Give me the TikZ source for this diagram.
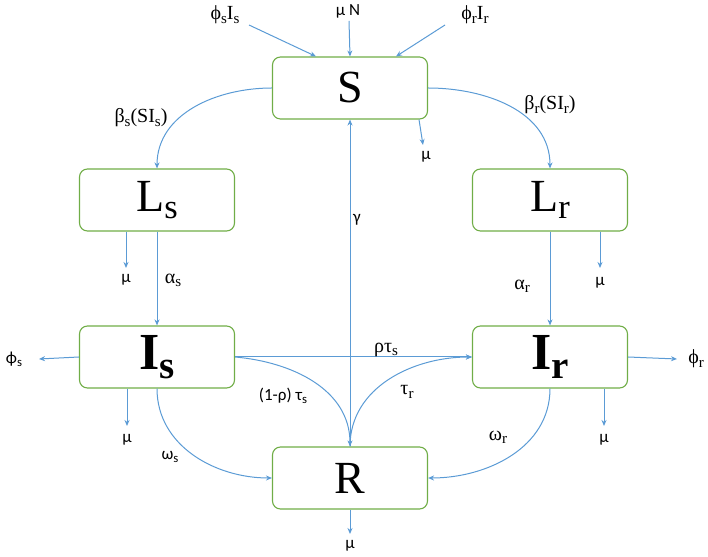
\documentclass[tikz,border=0pt]{standalone}
\usepackage{fontspec}
\setmainfont{Liberation Serif}
\newfontfamily\calib{Carlito}
\usepackage{xcolor}
\usepackage{tikz}
\usetikzlibrary{arrows.meta,positioning}
\definecolor{boxgreen}{RGB}{112,173,71}
\definecolor{flowblue}{RGB}{91,155,213}
\newcommand\subs[1]{\raisebox{-.35ex}{\scalebox{.75}{#1}}}
\tikzset{
	comp/.style={rectangle, draw=boxgreen, line width=1.1pt, rounded corners=8pt, minimum width=155pt, minimum height=62pt, inner sep=0pt, font=\fontsize{46}{46}\selectfont},
	flow/.style={-{Stealth[length=6pt,width=5pt]}, draw=flowblue, line width=1pt},
	rate/.style={inner sep=1pt, font=\fontsize{20}{20}\selectfont},
	death/.style={inner sep=1pt, font=\calib\fontsize{17}{17}\selectfont}
}

\begin{document}
\begin{tikzpicture}[x=1pt,y=1pt]
	\useasboundingbox (0,0) rectangle (708,556);
	\node[comp] (S) at (350,468) {S};
	\node[comp] (Ls) at (157,356) {L\subs{s}};
	\node[comp] (Lr) at (550,356) {L\subs{r}};
	\node[comp, font=\fontsize{52}{52}\selectfont\bfseries] (Is) at (157,199) {I\subs{s}};
	\node[comp, font=\fontsize{52}{52}\selectfont\bfseries] (Ir) at (550,199) {I\subs{r}};
	\node[comp] (R) at (350,78) {R};
	
	\coordinate (inS) at (249,531);
	\coordinate (inN) at (349,535);
	\coordinate (inR) at (445,531);
	\coordinate (muS) at (423,411);
	\coordinate (muLs) at (126,288);
	\coordinate (muLr) at (600,288);
	\coordinate (outS) at (39,197);
	\coordinate (outR) at (677,197);
	\coordinate (muIs) at (127,130);
	\coordinate (muIr) at (604,130);
	\coordinate (muR) at (350,22);
	
	\draw[flow] (inS) -- ([xshift=-34pt]S.north);
	\draw[flow] (inN) -- (S.north);
	\draw[flow] (inR) -- ([xshift=46pt]S.north);
	\draw[flow] ([xshift=69pt]S.south) -- (muS);
	\draw[flow] (S.west) to[out=180,in=90] (Ls.north);
	\draw[flow] (S.east) to[out=0,in=90] (Lr.north);
	\draw[flow] (R.north) -- (S.south);
	\draw[flow] ([xshift=-31pt]Ls.south) -- (muLs);
	\draw[flow] (Ls.south) -- (Is.north);
	\draw[flow] (Lr.south) -- (Ir.north);
	\draw[flow] ([xshift=50pt]Lr.south) -- (muLr);
	\draw[flow] (Is.west) -- (outS);
	\draw[flow] (Ir.east) -- (outR);
	\draw[flow] (Is.east) -- (Ir.west);
	\draw[flow] (Is.east) to[out=-5,in=90] (R.north);
	\draw[flow] (R.north) to[out=90,in=180] (Ir.west);
	\draw[flow] ([xshift=-30pt]Is.south) -- (muIs);
	\draw[flow] ([xshift=54pt]Ir.south) -- (muIr);
	\draw[flow] (Is.south) to[out=-90,in=180] (R.west);
	\draw[flow] (Ir.south) to[out=-90,in=0] (R.east);
	\draw[flow] (R.south) -- (muR);
	
	\node[rate] (lphis) at (225,541) {ϕ\subs{s}I\subs{s}};
	\node[death] (lmun) at (348,545) {μ N};
	\node[rate] (lphir) at (475,541) {ϕ\subs{r}I\subs{r}};
	\node[death] (lmus) at (426,399) {μ};
	\node[rate] (lbetas) at (141,438) {β\subs{s}(SI\subs{s})};
	\node[rate] (lbetar) at (550,451) {β\subs{r}(SI\subs{r})};
	\node[death] (lgamma) at (357,336) {γ};
	\node[death] (lmuls) at (126,276) {μ};
	\node[rate] (lalphas) at (173,276) {α\subs{s}};
	\node[rate] (lalphar) at (522,270) {α\subs{r}};
	\node[death] (lmulr) at (600,273) {μ};
	\node[death] (lphs) at (14,197) {ϕ\subs{s}};
	\node[rate] (lphr) at (696,197) {ϕ\subs{r}};
	\node[rate] (lrho) at (386,206) {ρτ\subs{s}};
	\node[death] (lonerho) at (283,160) {(1-ρ) τ\subs{s}};
	\node[rate] (ltaur) at (407,164) {τ\subs{r}};
	\node[death] (lmuis) at (127,116) {μ};
	\node[death] (lomegas) at (170,99) {ω\subs{s}};
	\node[rate] (lomegar) at (498,119) {ω\subs{r}};
	\node[death] (lmuir) at (604,116) {μ};
	\node[death] (lmur) at (350,10) {μ};
\end{tikzpicture}
\end{document}
